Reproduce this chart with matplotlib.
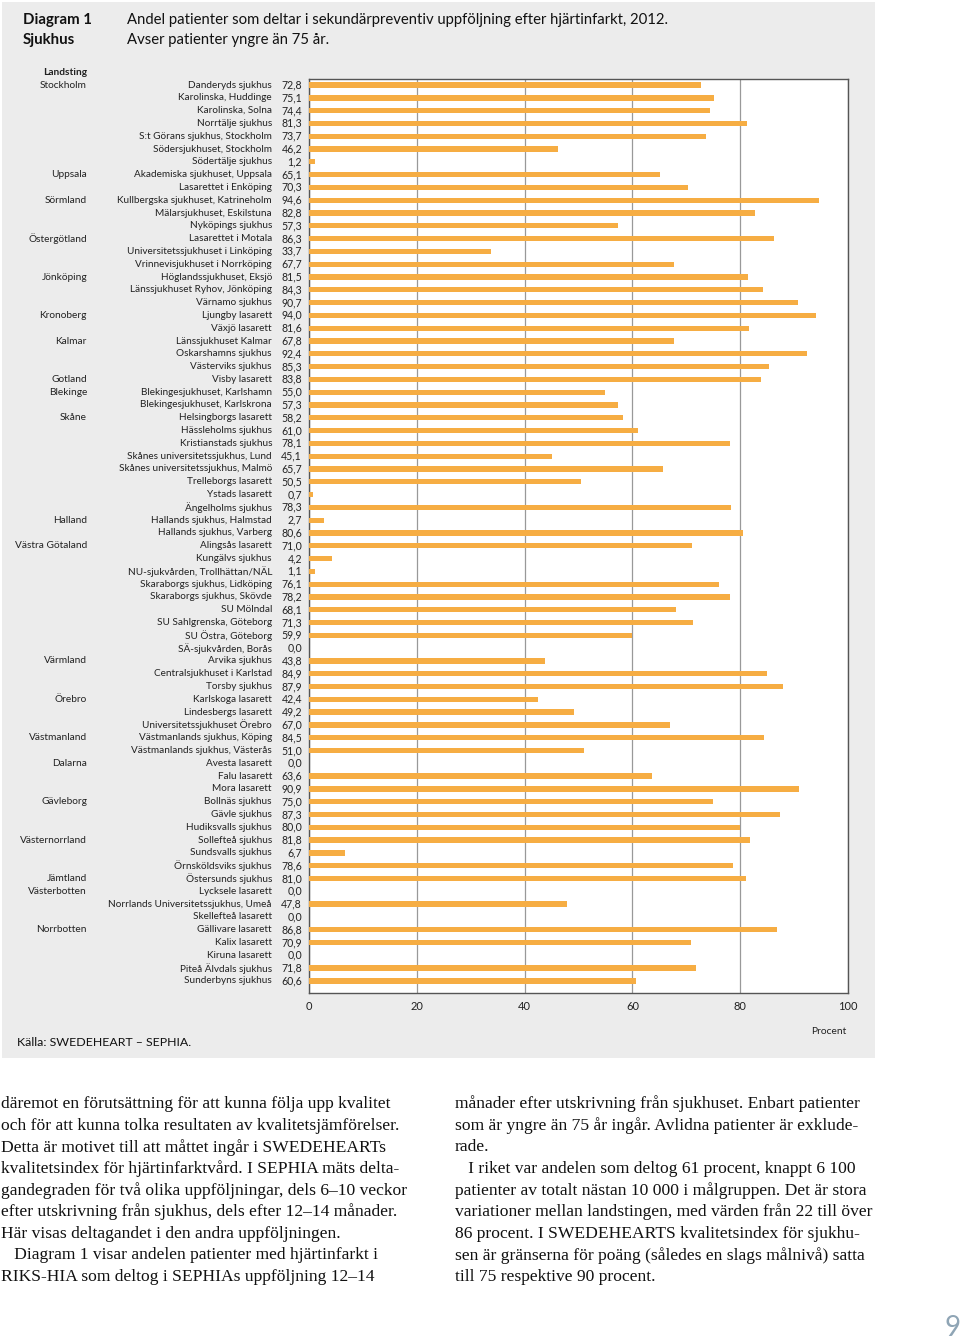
import numpy as np
import matplotlib
matplotlib.use('Agg')
import matplotlib.pyplot as plt
import matplotlib.patches as patches
import matplotlib.transforms as mtransforms

plt.rcParams['font.family'] = ['Lato', 'DejaVu Sans']

# data
hospitals = [
    'Danderyds sjukhus', 'Karolinska, Huddinge', 'Karolinska, Solna', 'Norrtälje sjukhus',
    'S:t Görans sjukhus, Stockholm', 'Södersjukhuset, Stockholm', 'Södertälje sjukhus',
    'Akademiska sjukhuset, Uppsala', 'Lasarettet i Enköping',
    'Kullbergska sjukhuset, Katrineholm', 'Mälarsjukhuset, Eskilstuna', 'Nyköpings sjukhus',
    'Lasarettet i Motala', 'Universitetssjukhuset i Linköping', 'Vrinnevisjukhuset i Norrköping',
    'Höglandssjukhuset, Eksjö', 'Länssjukhuset Ryhov, Jönköping', 'Värnamo sjukhus',
    'Ljungby lasarett', 'Växjö lasarett',
    'Länssjukhuset Kalmar', 'Oskarshamns sjukhus', 'Västerviks sjukhus',
    'Visby lasarett',
    'Blekingesjukhuset, Karlshamn', 'Blekingesjukhuset, Karlskrona',
    'Helsingborgs lasarett', 'Hässleholms sjukhus', 'Kristianstads sjukhus',
    'Skånes universitetssjukhus, Lund', 'Skånes universitetssjukhus, Malmö',
    'Trelleborgs lasarett', 'Ystads lasarett', 'Ängelholms sjukhus',
    'Hallands sjukhus, Halmstad', 'Hallands sjukhus, Varberg',
    'Alingsås lasarett', 'Kungälvs sjukhus', 'NU-sjukvården, Trollhättan/NÄL',
    'Skaraborgs sjukhus, Lidköping', 'Skaraborgs sjukhus, Skövde', 'SU Mölndal',
    'SU Sahlgrenska, Göteborg', 'SU Östra, Göteborg', 'SÄ-sjukvården, Borås',
    'Arvika sjukhus', 'Centralsjukhuset i Karlstad', 'Torsby sjukhus',
    'Karlskoga lasarett', 'Lindesbergs lasarett', 'Universitetssjukhuset Örebro',
    'Västmanlands sjukhus, Köping', 'Västmanlands sjukhus, Västerås',
    'Avesta lasarett', 'Falu lasarett', 'Mora lasarett',
    'Bollnäs sjukhus', 'Gävle sjukhus', 'Hudiksvalls sjukhus',
    'Sollefteå sjukhus', 'Sundsvalls sjukhus', 'Örnsköldsviks sjukhus',
    'Östersunds sjukhus',
    'Lycksele lasarett', 'Norrlands Universitetssjukhus, Umeå', 'Skellefteå lasarett',
    'Gällivare lasarett', 'Kalix lasarett', 'Kiruna lasarett', 'Piteå Älvdals sjukhus',
    'Sunderbyns sjukhus',
]
values = [
    72.8, 75.1, 74.4, 81.3, 73.7, 46.2, 1.2,
    65.1, 70.3,
    94.6, 82.8, 57.3,
    86.3, 33.7, 67.7,
    81.5, 84.3, 90.7,
    94.0, 81.6,
    67.8, 92.4, 85.3,
    83.8,
    55.0, 57.3,
    58.2, 61.0, 78.1, 45.1, 65.7, 50.5, 0.7, 78.3,
    2.7, 80.6,
    71.0, 4.2, 1.1, 76.1, 78.2, 68.1, 71.3, 59.9, 0.0,
    43.8, 84.9, 87.9,
    42.4, 49.2, 67.0,
    84.5, 51.0,
    0.0, 63.6, 90.9,
    75.0, 87.3, 80.0,
    81.8, 6.7, 78.6,
    81.0,
    0.0, 47.8, 0.0,
    86.8, 70.9, 0.0, 71.8, 60.6,
]
landsting = ['Stockholm', 'Uppsala', 'Sörmland', 'Östergötland', 'Jönköping', 'Kronoberg',
             'Kalmar', 'Gotland', 'Blekinge', 'Skåne', 'Halland', 'Västra Götaland',
             'Värmland', 'Örebro', 'Västmanland', 'Dalarna', 'Gävleborg', 'Västernorrland',
             'Jämtland', 'Västerbotten', 'Norrbotten']
landsting_first = ['Danderyds sjukhus', 'Akademiska sjukhuset, Uppsala',
                   'Kullbergska sjukhuset, Katrineholm', 'Lasarettet i Motala',
                   'Höglandssjukhuset, Eksjö', 'Ljungby lasarett', 'Länssjukhuset Kalmar',
                   'Visby lasarett', 'Blekingesjukhuset, Karlshamn', 'Helsingborgs lasarett',
                   'Hallands sjukhus, Halmstad', 'Alingsås lasarett', 'Arvika sjukhus',
                   'Karlskoga lasarett', 'Västmanlands sjukhus, Köping', 'Avesta lasarett',
                   'Bollnäs sjukhus', 'Sollefteå sjukhus', 'Östersunds sjukhus',
                   'Lycksele lasarett', 'Gällivare lasarett']
xticks = [0, 20, 40, 60, 80, 100]

W, H = 960, 1342
fig = plt.figure(figsize=(W / 100, H / 100), dpi=100)
fig.patch.set_facecolor('white')

def fx(px):
    return px / W

def fy(py):
    return 1 - py / H

# grey panel behind the diagram
fig.patches.append(patches.Rectangle((fx(2), fy(1058)), fx(873), 1056 / H,
                                     transform=fig.transFigure, facecolor='#ececec',
                                     edgecolor='none', zorder=-10))

ax = fig.add_axes([fx(309), fy(993), fx(848) - fx(309), (993 - 79) / H])
ax.set_facecolor('white')
y = np.arange(len(hospitals))
ax.barh(y, values, height=0.42, color='#f6ad43', zorder=3)
ax.set_xlim(0, 100)
ax.set_ylim(len(hospitals) - 0.06, -0.47)
ax.set_xticks(xticks)
ax.set_xticklabels([str(t) for t in xticks], fontsize=8, color='#222222')
ax.tick_params(axis='x', length=0, pad=6)
ax.set_yticks(y)
ax.set_yticklabels([f'{v:.1f}'.replace('.', ',') for v in values], fontsize=7.6,
                   color='#222222', va='center')
ax.tick_params(axis='y', length=0, pad=5)
ax.grid(axis='x', color='#999999', linewidth=0.9, zorder=1)
ax.grid(axis='y', visible=False)
for s in ax.spines.values():
    s.set_color('#555555')
    s.set_linewidth(1.0)

tr = mtransforms.blended_transform_factory(fig.transFigure, ax.transData)
for i, name in enumerate(hospitals):
    ax.text(fx(272), i, name, transform=tr, ha='right', va='center', fontsize=7.2,
            color='#222222')
for lan, first in zip(landsting, landsting_first):
    ax.text(fx(87), hospitals.index(first), lan, transform=tr, ha='right', va='center',
            fontsize=7.3, color='#222222')
ax.text(fx(87), -1.0, 'Landsting', transform=tr, ha='right', va='center', fontsize=7.3,
        fontweight='bold', color='#222222')

# header
fig.text(fx(23), fy(20), 'Diagram 1', fontsize=10.8, fontweight='bold', va='center',
         color='#111111')
fig.text(fx(23), fy(40), 'Sjukhus', fontsize=10.8, fontweight='bold', va='center',
         color='#111111')
fig.text(fx(127), fy(20),
         'Andel patienter som deltar i sekundärpreventiv uppföljning efter hjärtinfarkt, 2012.',
         fontsize=10.7, va='center', color='#111111')
fig.text(fx(127), fy(40), 'Avser patienter yngre än 75 år.', fontsize=10.7, va='center',
         color='#111111')
fig.text(fx(846), fy(1031), 'Procent', fontsize=7.4, ha='right', va='center',
         color='#222222')
fig.text(fx(17), fy(1042), 'Källa: SWEDEHEART – SEPHIA.', fontsize=8.9, va='center',
         color='#111111')

# body text
left_col = [
    'däremot en förutsättning för att kunna följa upp kvalitet',
    'och för att kunna tolka resultaten av kvalitetsjämförelser.',
    'Detta är motivet till att måttet ingår i SWEDEHEARTs',
    'kvalitetsindex för hjärtinfarktvård. I SEPHIA mäts delta-',
    'gandegraden för två olika uppföljningar, dels 6–10 veckor',
    'efter utskrivning från sjukhus, dels efter 12–14 månader.',
    'Här visas deltagandet i den andra uppföljningen.',
    '   Diagram 1 visar andelen patienter med hjärtinfarkt i',
    'RIKS-HIA som deltog i SEPHIAs uppföljning 12–14',
]
right_col = [
    'månader efter utskrivning från sjukhuset. Enbart patienter',
    'som är yngre än 75 år ingår. Avlidna patienter är exklude-',
    'rade.',
    '   I riket var andelen som deltog 61 procent, knappt 6 100',
    'patienter av totalt nästan 10 000 i målgruppen. Det är stora',
    'variationer mellan landstingen, med värden från 22 till över',
    '86 procent. I SWEDEHEARTS kvalitetsindex för sjukhu-',
    'sen är gränserna för poäng (således en slags målnivå) satta',
    'till 75 respektive 90 procent.',
]
for k, line in enumerate(left_col):
    fig.text(fx(1), fy(1104 + 21.6 * k), line, fontsize=12.6, family='Liberation Serif',
             va='center', color='#111111')
for k, line in enumerate(right_col):
    fig.text(fx(455), fy(1104 + 21.6 * k), line, fontsize=12.6, family='Liberation Serif',
             va='center', color='#111111')

fig.text(fx(945), fy(1328), '9', fontsize=20, va='center', color='#8fa5b5')

fig.savefig('out.png', dpi=100, facecolor=fig.get_facecolor())
